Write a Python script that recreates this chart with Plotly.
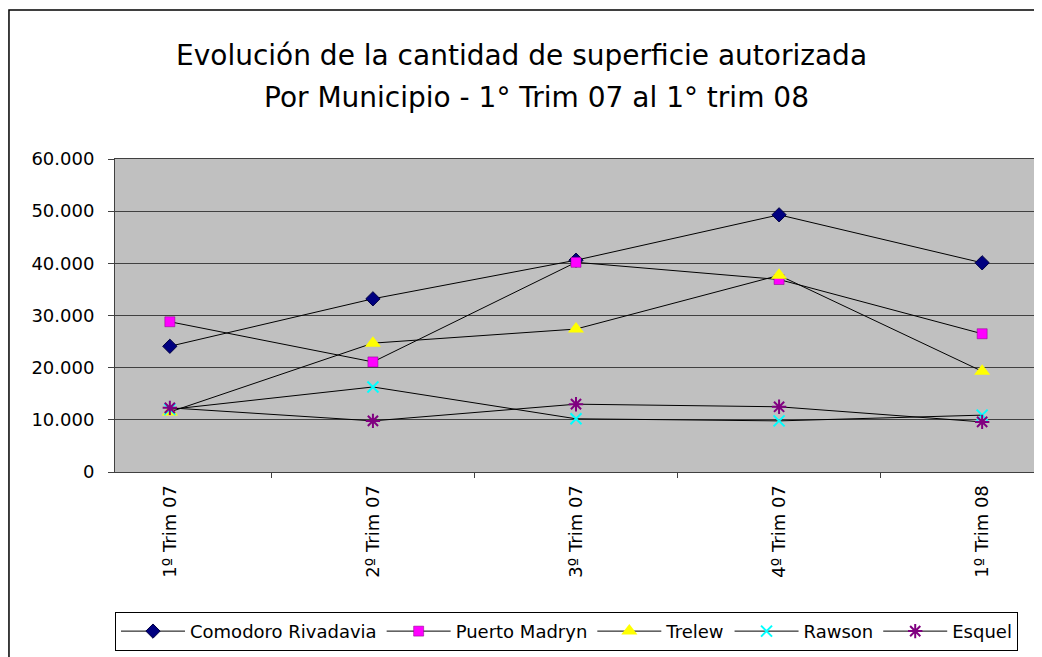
import plotly.graph_objects as go

categories = ["1º Trim 07", "2º Trim 07", "3º Trim 07", "4º Trim 07", "1º Trim 08"]
comodoro = [24100, 33200, 40600, 49300, 40100]
madryn = [28800, 21100, 40200, 36900, 26500]
trelew = [11500, 24700, 27400, 37700, 19300]
rawson = [12000, 16300, 10200, 9800, 10900]
esquel = [12300, 9800, 13000, 12500, 9600]
y_ticks = [0, 10000, 20000, 30000, 40000, 50000, 60000]

FONT = "DejaVu Sans"

series = [
    ("Comodoro Rivadavia", comodoro, dict(symbol="diamond", size=11, color="#000080",
                                          line=dict(color="#000040", width=1))),
    ("Puerto Madryn", madryn, dict(symbol="square", size=10, color="#FF00FF",
                                   line=dict(color="#800080", width=0.5))),
    ("Trelew", trelew, dict(symbol="triangle-up", size=14, color="#FFFF00",
                            line=dict(color="#FFFF00", width=0))),
    ("Rawson", rawson, dict(symbol="x-thin-open", size=11, color="#00FFFF",
                            line=dict(color="#00FFFF", width=2))),
    ("Esquel", esquel, dict(symbol="asterisk-open", size=12, color="#800080",
                            line=dict(color="#800080", width=2))),
]

fig = go.Figure()
for name, vals, mk in series:
    fig.add_trace(go.Scatter(
        x=categories, y=vals, name=name, mode="lines+markers",
        line=dict(color="black", width=1), marker=mk,
    ))

fig.update_layout(
    width=1034, height=649,
    margin=dict(l=107, r=5, t=151, b=185, autoexpand=False),
    paper_bgcolor="white", plot_bgcolor="#C0C0C0",
    separators=",.",
    font=dict(family=FONT, size=17, color="black"),
    showlegend=True,
    legend=dict(orientation="h", x=0.0, xanchor="left", y=-0.447, yanchor="top",
                bordercolor="black", borderwidth=1, bgcolor="white",
                font=dict(family=FONT, size=18), itemwidth=64,
                traceorder="normal"),
)

fig.update_xaxes(
    type="category", tickangle=-90, tickson="boundaries", ticks="outside",
    ticklen=5, tickcolor="#404040", showline=True, linecolor="#404040",
    linewidth=1, mirror=True, showgrid=False, ticklabelstandoff=5,
    tickfont=dict(family=FONT, size=18),
)
fig.update_yaxes(
    range=[0, 60000], tickvals=y_ticks, tickformat=",d", ticks="outside",
    ticklen=6, tickcolor="#404040", showline=True, linecolor="#404040",
    linewidth=1, mirror=True, showgrid=True, gridcolor="#404040", gridwidth=1.2,
    tickfont=dict(family=FONT, size=18), zeroline=False, ticklabelstandoff=10,
)

# Titles
fig.add_annotation(text="Evolución de la cantidad de superficie autorizada",
                   xref="paper", yref="paper", x=0.441, y=1.332,
                   xanchor="center", yanchor="middle",
                   showarrow=False, font=dict(family=FONT, size=28, color="black"))
fig.add_annotation(text="Por Municipio - 1° Trim 07 al 1° trim 08",
                   xref="paper", yref="paper", x=0.457, y=1.195,
                   xanchor="center", yanchor="middle",
                   showarrow=False, font=dict(family=FONT, size=28, color="black"))

# Outer chart border
fig.add_shape(type="rect", xref="paper", yref="paper",
              x0=-0.115, x1=1.02, y0=-0.62, y1=1.476,
              line=dict(color="black", width=1.5), fillcolor="rgba(0,0,0,0)",
              layer="below")

fig.write_html("out.html")
